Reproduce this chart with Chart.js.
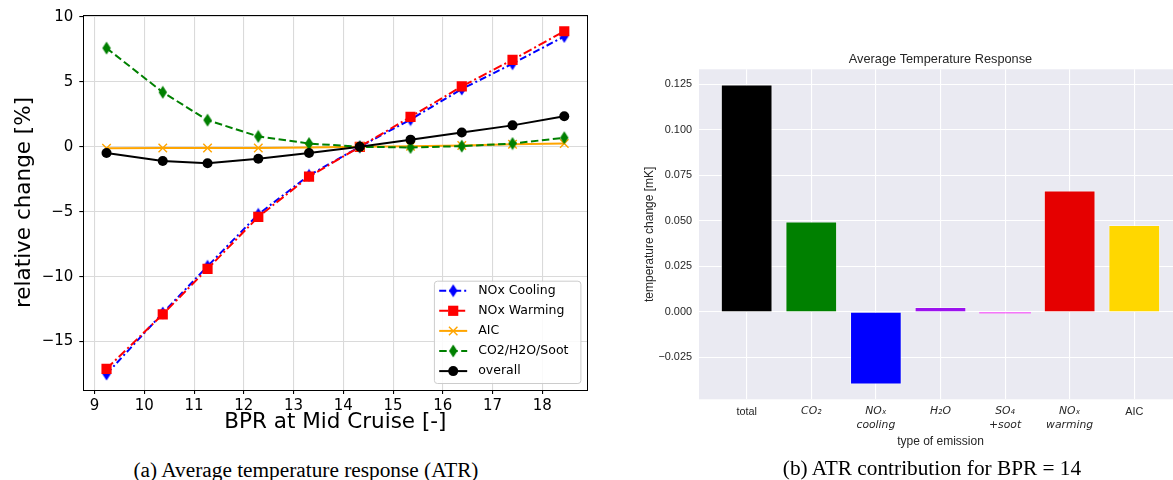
<!DOCTYPE html>
<html>
<head>
<meta charset="utf-8">
<title>ATR</title>
<script src="https://cdn.jsdelivr.net/npm/chart.js@4.4.1/dist/chart.umd.min.js"></script>
<style>
    html, body { margin: 0; padding: 0; background: #fff; overflow: hidden; width: 1173px; height: 480px; }
    #left { position: absolute; left: 0; top: 0; }
    #right { position: absolute; left: 620px; top: 40px; }
    .caption {
        position: absolute; width: 420px; text-align: center; color: #000;
        font-family: "Liberation Serif", "Times New Roman", serif; font-size: 21.3px; line-height: 24px;
    }
</style>
</head>
<body>
<canvas id="left" width="600" height="440"></canvas>
<canvas id="right" width="562" height="420"></canvas>
<div class="caption" style="left:96px; top:458px;">(a) Average temperature response (ATR)</div>
<div class="caption" style="left:722px; top:456px;">(b) ATR contribution for BPR = 14</div>
<script>
// (a) relative change of ATR [%] over BPR at mid cruise
const bpr = [9.24, 10.37, 11.27, 12.29, 13.31, 14.33, 15.35, 16.38, 17.40, 18.44];
const noxCooling = [-17.5, -12.8, -9.2, -5.2, -2.2, 0.0, 2.1, 4.45, 6.4, 8.5];
const noxWarming = [-17.1, -12.9, -9.4, -5.4, -2.3, 0.0, 2.3, 4.65, 6.7, 8.9];
const aic = [-0.12, -0.1, -0.1, -0.1, -0.05, 0.0, 0.05, 0.1, 0.2, 0.25];
const co2h2oSoot = [7.6, 4.2, 2.05, 0.8, 0.25, 0.0, -0.05, 0.05, 0.25, 0.7];
const overall = [-0.48, -1.1, -1.27, -0.92, -0.48, 0.0, 0.55, 1.1, 1.65, 2.35];
const bprTicks = [9, 10, 11, 12, 13, 14, 15, 16, 17, 18];
const relTicks = [-15, -10, -5, 0, 5, 10];

// (b) ATR contribution at BPR = 14 [mK]
const emissionLabels = [['total'], ['CO\u2082'], ['NO\u2093', 'cooling'], ['H\u2082O'], ['SO\u2084', '+soot'], ['NO\u2093', 'warming'], ['AIC']];
const emissionItalic = [false, true, true, true, true, true, false];
const atrValues = [0.125, 0.0497, -0.0399, 0.0027, -0.0007, 0.0667, 0.0477];
const atrColors = ['#000000', '#008000', '#0000ff', '#9b12ee', '#ff00ff', '#e50000', '#ffd700'];
const atrTicks = [-0.025, 0, 0.025, 0.05, 0.075, 0.1, 0.125];

function points(ys) {
    return ys.map(function (y, i) {
        return {x: bpr[i], y: y};
    });
}

function minus(s) {
    return String(s).replace('-', '\u2212');
}

// matplotlib style thin diamond marker
function thinDiamond(color) {
    let c = document.createElement('canvas');
    c.width = 10;
    c.height = 14;
    let ctx = c.getContext('2d');
    ctx.fillStyle = color;
    ctx.beginPath();
    ctx.moveTo(5, 0.5);
    ctx.lineTo(9.2, 7);
    ctx.lineTo(5, 13.5);
    ctx.lineTo(0.8, 7);
    ctx.closePath();
    ctx.fill();
    return c;
}

function drawMarker(ctx, ds, x, y) {
    let style = ds.pointStyle;
    let r = ds.pointRadius;
    ctx.save();
    ctx.setLineDash([]);
    if (style instanceof HTMLCanvasElement) {
        ctx.drawImage(style, x - style.width / 2, y - style.height / 2);
    } else if (style === 'rect') {
        let s = Math.SQRT1_2 * r;
        ctx.fillStyle = ds.pointBackgroundColor;
        ctx.fillRect(x - s, y - s, 2 * s, 2 * s);
    } else if (style === 'crossRot') {
        let s = Math.SQRT1_2 * r;
        ctx.strokeStyle = ds.pointBorderColor;
        ctx.lineWidth = ds.pointBorderWidth;
        ctx.beginPath();
        ctx.moveTo(x - s, y - s);
        ctx.lineTo(x + s, y + s);
        ctx.moveTo(x - s, y + s);
        ctx.lineTo(x + s, y - s);
        ctx.stroke();
    } else {
        ctx.fillStyle = ds.pointBackgroundColor;
        ctx.beginPath();
        ctx.arc(x, y, r, 0, 2 * Math.PI);
        ctx.fill();
    }
    ctx.restore();
}

// black box round the plot area
const frame = {
    id: 'frame',
    afterDatasetsDraw: function (chart) {
        let a = chart.chartArea;
        let ctx = chart.ctx;
        ctx.save();
        ctx.strokeStyle = '#000';
        ctx.lineWidth = 1;
        ctx.strokeRect(Math.round(a.left) + 0.5, Math.round(a.top) + 0.5, Math.round(a.right - a.left), Math.round(a.bottom - a.top));
        ctx.restore();
    }
};

// legend drawn like matplotlib: line segment with the marker in the middle
const lineLegend = {
    id: 'lineLegend',
    afterDraw: function (chart) {
        let a = chart.chartArea;
        let ctx = chart.ctx;
        let w = 146.5, h = 102.3;
        let x0 = a.right - 7 - w;
        let y0 = a.bottom - 7 - h;
        ctx.save();
        ctx.fillStyle = 'rgba(255,255,255,0.85)';
        ctx.strokeStyle = '#cccccc';
        ctx.lineWidth = 1;
        ctx.beginPath();
        ctx.roundRect(x0 + 0.5, y0 + 0.5, w, h, 3);
        ctx.fill();
        ctx.stroke();
        ctx.font = '12.5px "DejaVu Sans"';
        ctx.textBaseline = 'middle';
        chart.data.datasets.forEach(function (ds, i) {
            let y = y0 + 10 + i * 20.1;
            let lx = x0 + 5.3;
            ctx.strokeStyle = ds.borderColor;
            ctx.lineWidth = ds.borderWidth;
            ctx.setLineDash(ds.borderDash || []);
            ctx.beginPath();
            ctx.moveTo(lx, y);
            ctx.lineTo(lx + 28, y);
            ctx.stroke();
            drawMarker(ctx, ds, lx + 14, y);
            ctx.fillStyle = '#000';
            ctx.fillText(ds.label, lx + 39, y);
        });
        ctx.restore();
    }
};

// seaborn darkgrid background
const plotBackground = {
    id: 'plotBackground',
    beforeDraw: function (chart) {
        let a = chart.chartArea;
        chart.ctx.save();
        chart.ctx.fillStyle = '#eaeaf2';
        chart.ctx.fillRect(a.left, a.top, a.right - a.left, a.bottom - a.top);
        chart.ctx.restore();
    }
};

function showLineChart() {
    let leftFont = {family: 'DejaVu Sans', size: 15};
    new Chart(document.getElementById('left'), {
        type: 'line',
        data: {
            datasets: [{
                label: 'NOx Cooling',
                data: points(noxCooling),
                borderColor: '#0000ff',
                borderWidth: 2,
                borderDash: [7, 3, 2, 3],
                pointStyle: thinDiamond('#0000ff'),
                pointRadius: 6,
                pointBackgroundColor: '#0000ff',
                order: 5
            }, {
                label: 'NOx Warming',
                data: points(noxWarming),
                borderColor: '#ff0000',
                borderWidth: 2,
                borderDash: [9, 3, 2, 3],
                pointStyle: 'rect',
                pointRadius: 7.2,
                pointBorderWidth: 0,
                pointBackgroundColor: '#ff0000',
                order: 4
            }, {
                label: 'AIC',
                data: points(aic),
                borderColor: '#ffa500',
                borderWidth: 2,
                pointStyle: 'crossRot',
                pointRadius: 6,
                pointBorderWidth: 1.4,
                pointBorderColor: '#ffa500',
                pointBackgroundColor: '#ffa500',
                order: 3
            }, {
                label: 'CO2/H2O/Soot',
                data: points(co2h2oSoot),
                borderColor: '#008000',
                borderWidth: 2,
                borderDash: [7.5, 3.5],
                pointStyle: thinDiamond('#008000'),
                pointRadius: 6,
                pointBackgroundColor: '#008000',
                order: 2
            }, {
                label: 'overall',
                data: points(overall),
                borderColor: '#000000',
                borderWidth: 2,
                pointStyle: 'circle',
                pointRadius: 5,
                pointBorderWidth: 0,
                pointBackgroundColor: '#000000',
                order: 1
            }]
        },
        options: {
            responsive: false,
            animation: false,
            devicePixelRatio: 1,
            layout: {padding: {top: 12.7, right: 12.6, left: 0, bottom: 0}},
            plugins: {legend: {display: false}, tooltip: {enabled: false}},
            scales: {
                x: {
                    type: 'linear',
                    min: 8.773,
                    max: 18.905,
                    afterBuildTicks: function (scale) {
                        scale.ticks = bprTicks.map(function (v) { return {value: v}; });
                    },
                    afterFit: function (scale) { scale.height = 50; },
                    ticks: {font: leftFont, color: '#000', padding: 3.6, maxRotation: 0, autoSkip: false},
                    grid: {color: '#dadada', lineWidth: 1.1, tickColor: '#000', tickLength: 4},
                    border: {display: false},
                    title: {
                        display: true,
                        text: 'BPR at Mid Cruise [-]',
                        color: '#000',
                        font: {family: 'DejaVu Sans', size: 21.5},
                        padding: {top: 0, bottom: 4.4}
                    }
                },
                y: {
                    min: -18.73,
                    max: 10.15,
                    afterBuildTicks: function (scale) {
                        scale.ticks = relTicks.map(function (v) { return {value: v}; });
                    },
                    afterFit: function (scale) { scale.width = 83.3; },
                    ticks: {
                        font: leftFont,
                        color: '#000',
                        padding: 6,
                        callback: function (v) { return minus(v); }
                    },
                    grid: {color: '#dadada', lineWidth: 1.1, tickColor: '#000', tickLength: 4},
                    border: {display: false},
                    title: {
                        display: true,
                        text: 'relative change [%]',
                        color: '#000',
                        font: {family: 'DejaVu Sans', size: 21.5},
                        padding: {top: 11.1, bottom: 0}
                    }
                }
            }
        },
        plugins: [frame, lineLegend]
    });
}

function showBarChart() {
    let grey = '#262626';
    new Chart(document.getElementById('right'), {
        type: 'bar',
        data: {
            datasets: [{
                label: 'ATR',
                data: atrValues.map(function (v, i) { return {x: i, y: v}; }),
                backgroundColor: atrColors,
                borderColor: 'rgba(255,255,255,0.45)',
                borderWidth: [1, 1, 1, 1, 0, 1, 1],
                barPercentage: 0.8,
                categoryPercentage: 1
            }]
        },
        options: {
            responsive: false,
            animation: false,
            devicePixelRatio: 1,
            layout: {padding: 0},
            plugins: {
                legend: {display: false},
                tooltip: {enabled: false},
                title: {
                    display: true,
                    text: 'Average Temperature Response',
                    fullSize: false,
                    color: grey,
                    font: {family: 'Liberation Sans', size: 12.75, weight: 'normal'},
                    padding: {top: 11.35, bottom: 2.65}
                }
            },
            scales: {
                x: {
                    type: 'linear',
                    min: -0.738,
                    max: 6.739,
                    offset: false,
                    afterBuildTicks: function (scale) {
                        scale.ticks = emissionLabels.map(function (l, i) { return {value: i}; });
                    },
                    afterFit: function (scale) { scale.height = 60.7; },
                    ticks: {
                        color: grey,
                        padding: 5.4,
                        maxRotation: 0,
                        autoSkip: false,
                        callback: function (v) { return emissionLabels[v]; },
                        font: function (ctx) {
                            if (emissionItalic[ctx.index]) {
                                return {family: 'DejaVu Sans', size: 10.8, style: 'italic', lineHeight: 1.28};
                            }
                            return {family: 'Liberation Sans', size: 10.9, lineHeight: 1.28};
                        }
                    },
                    grid: {color: '#ffffff', lineWidth: 1.1, drawTicks: false, offset: false},
                    border: {display: false},
                    title: {
                        display: true,
                        text: 'type of emission',
                        color: grey,
                        font: {family: 'Liberation Sans', size: 12},
                        padding: {top: 0, bottom: 11.1}
                    }
                },
                y: {
                    min: -0.048,
                    max: 0.1333,
                    afterBuildTicks: function (scale) {
                        scale.ticks = atrTicks.map(function (v) { return {value: v}; });
                    },
                    afterFit: function (scale) { scale.width = 79; },
                    ticks: {
                        color: grey,
                        padding: 7,
                        font: {family: 'Liberation Sans', size: 10.9},
                        callback: function (v) { return minus(v.toFixed(3)); }
                    },
                    grid: {color: '#ffffff', lineWidth: 1.1, drawTicks: false},
                    border: {display: false},
                    title: {
                        display: true,
                        text: 'temperature change [mK]',
                        color: grey,
                        font: {family: 'Liberation Sans', size: 12},
                        padding: {top: 22.1, bottom: 0}
                    }
                }
            }
        },
        plugins: [plotBackground]
    });
}

showLineChart();
showBarChart();
</script>
</body>
</html>
